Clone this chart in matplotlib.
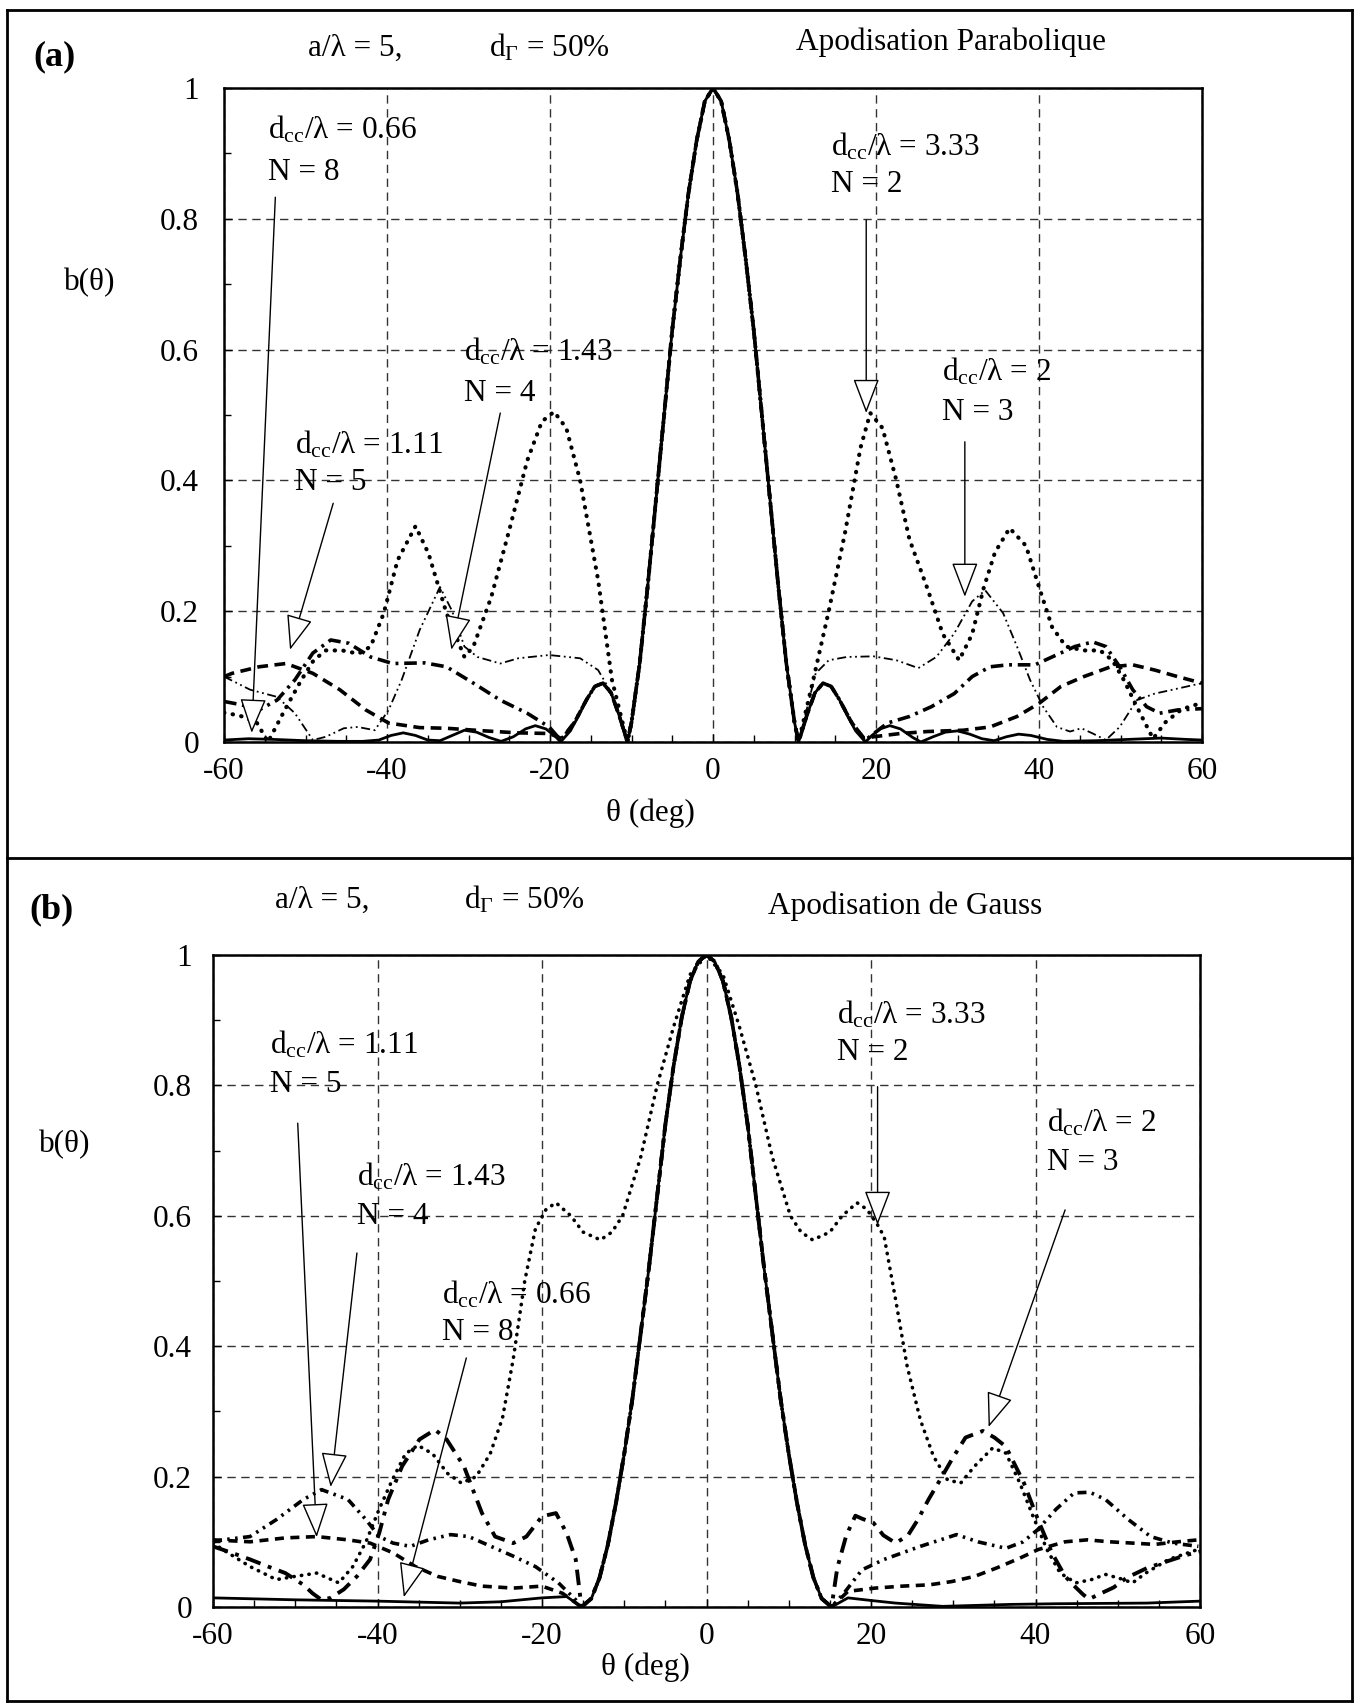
import matplotlib
matplotlib.use("Agg")
import matplotlib.pyplot as plt
from matplotlib.lines import Line2D

plt.rcParams['font.family'] = ['Liberation Serif', 'DejaVu Serif']
plt.rcParams['mathtext.fontset'] = 'custom'
plt.rcParams['mathtext.rm'] = 'Liberation Serif'
plt.rcParams['mathtext.it'] = 'Liberation Serif:italic'
plt.rcParams['mathtext.bf'] = 'Liberation Serif:bold'

# ---------------- data : panel (a) Apodisation Parabolique ----------------
lobe_a_theta = [-10.5, -10, -9, -8, -7, -6, -5, -4, -3, -2, -1, 0, 1, 2, 3, 4, 5, 6, 7, 8, 9, 10, 10.5]
lobe_a_b = [0, 0.03, 0.12, 0.24, 0.37, 0.5, 0.63, 0.74, 0.84, 0.92, 0.98, 1.0, 0.98, 0.92, 0.84, 0.74, 0.63, 0.5, 0.37, 0.24, 0.12, 0.03, 0]

a_n8_left_theta = [-60, -57, -54, -50, -46, -43, -41, -39.5, -38, -36.5, -35, -33.5, -32, -30.5, -29, -27.5, -26, -24.5, -23, -21.8, -20.5, -19.3, -18.7, -17.5, -16.5, -15.5, -14.5, -13.5, -12.5, -11.5]
a_n8_left_b = [0.003, 0.005, 0.004, 0.002, 0.001, 0.001, 0.003, 0.01, 0.014, 0.01, 0.003, 0.002, 0.01, 0.018, 0.015, 0.007, 0.001, 0.008, 0.02, 0.025, 0.02, 0.008, 0, 0.017, 0.04, 0.065, 0.085, 0.09, 0.075, 0.04]
a_n8_right_theta = [11.5, 12.5, 13.5, 14.5, 15.5, 16.5, 17.5, 18.7, 19.5, 20.5, 21.7, 23, 24.5, 25.5, 27, 28.5, 30, 31.5, 33, 34.5, 36, 37.5, 39, 41, 43, 47, 51, 55, 58, 60]
a_n8_right_b = [0.04, 0.075, 0.09, 0.085, 0.065, 0.04, 0.017, 0, 0.01, 0.02, 0.025, 0.02, 0.007, 0, 0.008, 0.015, 0.017, 0.012, 0.005, 0.002, 0.008, 0.012, 0.01, 0.004, 0.001, 0.002, 0.004, 0.006, 0.004, 0.003]

a_n2_left_theta = [-60, -58, -56, -54.6, -52.5, -50.5, -49, -47.5, -45.5, -43.5, -42, -40.4, -38.7, -36.5, -34.9, -32.7, -30.5, -29.4, -27.2, -25, -22.8, -21, -19.5, -18, -16.3, -14.1, -12.4]
a_n2_left_b = [0.045, 0.04, 0.03, 0.0, 0.05, 0.095, 0.125, 0.14, 0.14, 0.135, 0.146, 0.197, 0.278, 0.33, 0.288, 0.197, 0.13, 0.146, 0.222, 0.324, 0.43, 0.49, 0.505, 0.48, 0.40, 0.248, 0.095]
a_n2_right_theta = [12.3, 14.2, 16.2, 18.1, 19.3, 20.8, 22.5, 24.1, 26.3, 28.2, 30.2, 31.8, 33.2, 34.6, 36.4, 38.4, 40, 41.6, 43.3, 45.5, 47.5, 49, 50.4, 52, 54, 55.5, 57.5, 60]
a_n2_right_b = [0.095, 0.2, 0.32, 0.45, 0.503, 0.48, 0.40, 0.31, 0.235, 0.165, 0.125, 0.165, 0.235, 0.29, 0.327, 0.30, 0.237, 0.176, 0.146, 0.14, 0.14, 0.125, 0.095, 0.054, 0.005, 0.03, 0.05, 0.06]

a_n3_left_theta = [-60, -56.8, -53.5, -51.3, -49.1, -47.5, -45.3, -43.6, -41.5, -39.8, -38.2, -36, -33.5, -32, -30.5, -28.9, -26.1, -23.9, -20.1, -16.3, -14.1, -12.4, -11.5]
a_n3_left_b = [0.10, 0.08, 0.069, 0.044, 0.003, 0.008, 0.021, 0.023, 0.018, 0.049, 0.095, 0.171, 0.237, 0.2, 0.146, 0.13, 0.12, 0.128, 0.133, 0.128, 0.11, 0.074, 0.04]
a_n3_right_theta = [11.5, 12.6, 14.2, 16.4, 19.7, 22.5, 25.2, 27.4, 29.6, 31.8, 33.4, 35.6, 37.3, 38.9, 40.5, 42.2, 43.8, 45.2, 46.6, 48.2, 49.9, 52, 54.2, 56.4, 60]
a_n3_right_b = [0.05, 0.105, 0.125, 0.13, 0.131, 0.125, 0.113, 0.13, 0.166, 0.215, 0.232, 0.197, 0.146, 0.095, 0.054, 0.023, 0.016, 0.021, 0.013, 0.003, 0.023, 0.064, 0.074, 0.08, 0.09]

a_n4_left_theta = [-60, -57.9, -55.7, -53.5, -51.3, -49.1, -46.9, -44.7, -42, -39.3, -35.4, -32.7, -29.4, -26.1, -22.8, -20.1, -18.7, -17, -15.5, -14.5, -13.5, -12.5, -11.5]
a_n4_left_b = [0.062, 0.057, 0.049, 0.064, 0.095, 0.136, 0.156, 0.151, 0.13, 0.12, 0.121, 0.115, 0.09, 0.064, 0.044, 0.023, 0.003, 0.03, 0.065, 0.085, 0.09, 0.075, 0.04]
a_n4_right_theta = [11.5, 12.5, 13.5, 14.5, 15.5, 17, 18.7, 21.4, 24.1, 26.8, 29.6, 31.8, 34, 36.2, 39.5, 41.6, 44.4, 46.6, 48.2, 49.9, 51.5, 53.2, 54.8, 57, 60]
a_n4_right_b = [0.04, 0.075, 0.09, 0.085, 0.065, 0.03, 0.003, 0.029, 0.039, 0.054, 0.074, 0.10, 0.115, 0.118, 0.118, 0.13, 0.146, 0.153, 0.146, 0.115, 0.08, 0.054, 0.044, 0.049, 0.051]

a_n5_left_theta = [-60, -59, -55.7, -52.4, -49.1, -45.8, -42.6, -39.8, -36, -32.7, -28, -24, -20.1, -18.5, -17, -15.5, -14.5, -13.5, -12.5, -11.5]
a_n5_left_b = [0.10, 0.105, 0.115, 0.12, 0.105, 0.08, 0.049, 0.029, 0.022, 0.021, 0.017, 0.014, 0.013, 0.005, 0.03, 0.065, 0.085, 0.09, 0.075, 0.04]
a_n5_right_theta = [11.5, 12.5, 13.5, 14.5, 15.5, 17, 18.5, 19.7, 23, 26.3, 30.7, 34, 37.3, 40, 42.7, 45.5, 48.8, 51.5, 54.2, 57, 60]
a_n5_right_b = [0.04, 0.075, 0.09, 0.085, 0.065, 0.03, 0.005, 0.008, 0.013, 0.016, 0.018, 0.023, 0.039, 0.059, 0.085, 0.10, 0.115, 0.118, 0.11, 0.10, 0.09]

# ---------------- data : panel (b) Apodisation de Gauss ----------------
lobe_b_theta = [-15.2, -14, -13, -12, -11, -10, -9, -8, -7, -6, -5, -4, -3, -2, -1, 0, 1, 2, 3, 4, 5, 6, 7, 8, 9, 10, 11, 12, 13, 14, 15.2]
lobe_b_b = [0, 0.013, 0.045, 0.095, 0.16, 0.235, 0.32, 0.42, 0.52, 0.63, 0.74, 0.83, 0.905, 0.96, 0.99, 1.0, 0.99, 0.96, 0.905, 0.83, 0.74, 0.63, 0.52, 0.42, 0.32, 0.235, 0.16, 0.095, 0.045, 0.013, 0]

b_n8_left_theta = [-60, -50, -40, -30, -25, -20, -17]
b_n8_left_b = [0.014, 0.011, 0.009, 0.006, 0.008, 0.014, 0.016]
b_n8_right_theta = [17.2, 20, 23, 28.7, 37, 42.5, 53.5, 60]
b_n8_right_b = [0.014, 0.01, 0.006, 0.001, 0.004, 0.005, 0.006, 0.009]

b_n2_theta = [-60, -58.8, -55.5, -52.3, -50, -47.4, -44.7, -43, -41.4, -39.8, -38.2, -36.6, -35.1, -33.3, -31.5, -29.8, -28, -26.3, -24.8, -23.5, -22.1, -20.8, -19.5, -18.3, -16.5, -15, -12.9, -11.5, -10.2, -8, -6, -4, -2, 0,
              2, 4, 6, 8, 10.2, 11.5, 12.9, 15, 16.5, 18.3, 19.5, 20.8, 21.6, 23, 24.4, 26, 27.6, 29.3, 30.9, 32.6, 34.8, 36.4, 38.1, 39.7, 41.4, 43, 44.9, 46.8, 48.5, 50.2, 51.8, 53.4, 56.2, 59.7, 60]
b_n2_b = [0.098, 0.088, 0.062, 0.042, 0.047, 0.052, 0.037, 0.062, 0.1, 0.15, 0.195, 0.235, 0.248, 0.235, 0.205, 0.19, 0.2, 0.235, 0.29, 0.38, 0.5, 0.58, 0.61, 0.62, 0.6, 0.575, 0.563, 0.575, 0.6, 0.69, 0.8, 0.89, 0.97, 1.0,
          0.97, 0.89, 0.8, 0.69, 0.6, 0.575, 0.563, 0.575, 0.6, 0.62, 0.61, 0.586, 0.568, 0.471, 0.369, 0.287, 0.231, 0.195, 0.19, 0.216, 0.244, 0.236, 0.19, 0.139, 0.088, 0.052, 0.037, 0.042, 0.05, 0.044, 0.037, 0.052, 0.073, 0.088, 0.09]

b_n3_left_theta = [-60, -57.7, -55.5, -53.3, -51.2, -49, -47.9, -46.8, -45.7, -44.1, -42.5, -40.9, -39.8, -38.7, -37, -34.9, -33, -31.6, -29.5, -28.4, -27.3, -25.7, -23.5, -21.9, -20, -18.3, -17, -15.9]
b_n3_left_b = [0.093, 0.083, 0.073, 0.062, 0.052, 0.034, 0.021, 0.011, 0.014, 0.027, 0.047, 0.073, 0.113, 0.165, 0.216, 0.257, 0.272, 0.257, 0.216, 0.18, 0.144, 0.108, 0.098, 0.108, 0.139, 0.144, 0.113, 0.073]
b_n3_right_theta = [15.9, 17, 18.1, 19, 20.3, 21.5, 23, 24.5, 25.7, 27, 28.4, 30, 31.5, 33.6, 35, 36.4, 38.6, 40.3, 42, 43.6, 44.9, 45.8, 46.5, 47.8, 49.5, 51.1, 53.6, 56, 58.4, 60]
b_n3_right_b = [0.06, 0.11, 0.14, 0.135, 0.129, 0.11, 0.098, 0.11, 0.134, 0.165, 0.195, 0.23, 0.26, 0.27, 0.26, 0.246, 0.19, 0.134, 0.083, 0.047, 0.03, 0.019, 0.012, 0.02, 0.03, 0.045, 0.06, 0.07, 0.08, 0.085]

b_n4_left_theta = [-60, -58.8, -55.5, -52.3, -49, -46.8, -43.6, -41.4, -39.8, -38.1, -36, -33.8, -31.1, -28.9, -26.2, -23.5, -20.8, -18, -15.9]
b_n4_left_b = [0.1, 0.103, 0.108, 0.134, 0.165, 0.18, 0.165, 0.134, 0.108, 0.098, 0.093, 0.103, 0.111, 0.108, 0.093, 0.078, 0.062, 0.037, 0.011]
b_n4_right_theta = [16.7, 18.9, 21.6, 26, 30.4, 33, 36.4, 38.5, 40.3, 42.5, 44.7, 46.6, 48.5, 51.3, 54, 56.7, 59.8]
b_n4_right_b = [0.021, 0.057, 0.073, 0.093, 0.111, 0.1, 0.09, 0.1, 0.119, 0.15, 0.175, 0.176, 0.165, 0.134, 0.108, 0.098, 0.093]

b_n5_left_theta = [-60, -55.5, -51.2, -47.4, -43.6, -40.9, -38.1, -35.4, -32.7, -30, -27.3, -23.5, -20, -17.5]
b_n5_left_b = [0.103, 0.1, 0.106, 0.108, 0.103, 0.098, 0.083, 0.062, 0.047, 0.039, 0.032, 0.029, 0.032, 0.021]
b_n5_right_theta = [17.2, 20.5, 23.8, 27.1, 29.8, 32.6, 35.3, 38.1, 40.3, 43.6, 46.3, 49, 51.8, 54.5, 57.3, 59.8]
b_n5_right_b = [0.024, 0.029, 0.032, 0.034, 0.039, 0.047, 0.06, 0.075, 0.088, 0.10, 0.103, 0.10, 0.098, 0.096, 0.10, 0.103]

x_ticks = [-60, -40, -20, 0, 20, 40, 60]
y_ticks = [0, 0.2, 0.4, 0.6, 0.8, 1.0]
y_ticklabels = ['0', '0.2', '0.4', '0.6', '0.8', '1']

# ---------------- figure ----------------
W, H = 1356, 1703
fig = plt.figure(figsize=(W / 100, H / 100), dpi=100)
fig.patch.set_facecolor('white')


def fx(x):
    return x / W


def fy(y):
    return 1 - y / H


def rect(l, t, r, b):
    return [l / W, 1 - b / H, (r - l) / W, (b - t) / H]


# outer frame
for (x0, y0, x1, y1) in [(7, 10, 1352, 10), (7, 10, 7, 1701), (1352, 10, 1352, 1701),
                         (7, 858, 1352, 858), (7, 1701, 1352, 1701)]:
    fig.add_artist(Line2D([fx(x0), fx(x1)], [fy(y0), fy(y1)], transform=fig.transFigure,
                          color='black', lw=2.0))

FS = 22.5


def setup(ax, ypad):
    ax.set_xlim(-60, 60)
    ax.set_ylim(0, 1)
    ax.set_xticks(x_ticks)
    ax.set_xticklabels([str(t) for t in x_ticks])
    ax.set_yticks(y_ticks)
    ax.set_yticklabels(y_ticklabels)
    ax.set_xticks(list(range(-55, 60, 5)), minor=True)
    ax.set_yticks([0.1, 0.3, 0.5, 0.7, 0.9], minor=True)
    ax.tick_params(which='both', direction='in', top=False, right=False, width=1.0, color='black')
    ax.tick_params(which='major', length=6)
    ax.tick_params(which='minor', length=5)
    ax.tick_params(axis='x', which='major', labelsize=FS, pad=11)
    ax.tick_params(axis='y', which='major', labelsize=FS, pad=ypad)
    ax.grid(True, which='major', ls=(0, (6, 4)), lw=1.0, color='#333333')
    for s in ax.spines.values():
        s.set_linewidth(1.8)
    ax.set_axisbelow(True)


def curve(left_t, left_b, mid_t, mid_b, right_t, right_b):
    return left_t + mid_t + right_t, left_b + mid_b + right_b


axA = fig.add_axes(rect(224, 88, 1202, 742))
setup(axA, 18)
axB = fig.add_axes(rect(213, 955, 1200, 1607))
setup(axB, 15)

# panel (a) curves
t, b = curve(a_n5_left_theta, a_n5_left_b, lobe_a_theta, lobe_a_b, a_n5_right_theta, a_n5_right_b)
axA.plot(t, b, color='black', lw=2.6, ls=(0, (3, 1.8)))
t, b = curve(a_n4_left_theta, a_n4_left_b, lobe_a_theta, lobe_a_b, a_n4_right_theta, a_n4_right_b)
axA.plot(t, b, color='black', lw=2.6, ls=(0, (3.5, 1.6, 0.8, 1.6)))
t, b = curve(a_n3_left_theta, a_n3_left_b, lobe_a_theta, lobe_a_b, a_n3_right_theta, a_n3_right_b)
axA.plot(t, b, color='black', lw=1.3, ls=(0, (5, 2, 1, 2, 1, 2)))
t, b = curve(a_n2_left_theta, a_n2_left_b, lobe_a_theta, lobe_a_b, a_n2_right_theta, a_n2_right_b)
axA.plot(t, b, color='black', lw=3.0, ls=(0, (0.1, 2.0)), dash_capstyle='round')
t, b = curve(a_n8_left_theta, a_n8_left_b, lobe_a_theta, lobe_a_b, a_n8_right_theta, a_n8_right_b)
axA.plot(t, b, color='black', lw=2.0, ls='-')

# panel (b) curves
t, b = curve(b_n5_left_theta, b_n5_left_b, lobe_b_theta, lobe_b_b, b_n5_right_theta, b_n5_right_b)
axB.plot(t, b, color='black', lw=2.6, ls=(0, (2.5, 1.8)))
t, b = curve(b_n4_left_theta, b_n4_left_b, lobe_b_theta, lobe_b_b, b_n4_right_theta, b_n4_right_b)
axB.plot(t, b, color='black', lw=2.6, ls=(0, (2.5, 1.5, 0.7, 1.5, 0.7, 1.5)))
t, b = curve(b_n3_left_theta, b_n3_left_b, lobe_b_theta, lobe_b_b, b_n3_right_theta, b_n3_right_b)
axB.plot(t, b, color='black', lw=2.8, ls=(0, (4, 2, 1, 2)))
axB.plot(b_n2_theta, b_n2_b, color='black', lw=2.6, ls=(0, (0.1, 2.0)), dash_capstyle='round')
t, b = curve(b_n8_left_theta, b_n8_left_b, lobe_b_theta, lobe_b_b, b_n8_right_theta, b_n8_right_b)
axB.plot(t, b, color='black', lw=2.0, ls='-')


def ftext(x, y, s, **kw):
    kw.setdefault('fontsize', FS)
    kw.setdefault('va', 'center')
    kw.setdefault('ha', 'left')
    fig.text(fx(x), fy(y), s, **kw)


def arrow(ax, tail, tip):
    ax.annotate('', xy=tip, xytext=tail, xycoords='data', textcoords='data',
                arrowprops=dict(arrowstyle='-|>,head_length=1.1,head_width=0.42', mutation_scale=20,
                                fc='white', ec='black', lw=1.0, shrinkA=0, shrinkB=0),
                annotation_clip=False)


# headers
ftext(33, 57, '(a)', fontweight='bold', fontsize=26)
ftext(308, 48, 'a/λ = 5,')
ftext(489, 48, r'$\mathrm{d_{\Gamma}}$ = 50%')
ftext(951, 42, 'Apodisation Parabolique', ha='center')
ftext(29, 910, '(b)', fontweight='bold', fontsize=26)
ftext(275, 900, 'a/λ = 5,')
ftext(464, 900, r'$\mathrm{d_{\Gamma}}$ = 50%')
ftext(905, 906, 'Apodisation de Gauss', ha='center')

# axis labels
ftext(90, 283, 'b(θ)', ha='center')
ftext(650, 813, 'θ (deg)', ha='center')
ftext(65, 1145, 'b(θ)', ha='center')
ftext(645, 1667, 'θ (deg)', ha='center')

# annotations panel (a)
ftext(268, 130, r'$\mathrm{d_{cc}}$/λ = 0.66')
ftext(268, 172, 'N = 8')
ftext(464, 352, r'$\mathrm{d_{cc}}$/λ = 1.43')
ftext(464, 393, 'N = 4')
ftext(295, 445, r'$\mathrm{d_{cc}}$/λ = 1.11')
ftext(295, 483, 'N = 5')
ftext(831, 147, r'$\mathrm{d_{cc}}$/λ = 3.33')
ftext(831, 185, 'N = 2')
ftext(942, 372, r'$\mathrm{d_{cc}}$/λ = 2')
ftext(942, 412, 'N = 3')
arrow(axA, (-53.7, 0.833), (-56.6, 0.014))
arrow(axA, (-26.1, 0.503), (-32.1, 0.141))
arrow(axA, (-46.6, 0.365), (-51.9, 0.141))
arrow(axA, (18.8, 0.798), (18.8, 0.503))
arrow(axA, (30.9, 0.459), (30.9, 0.222))

# annotations panel (b)
ftext(270, 1045, r'$\mathrm{d_{cc}}$/λ = 1.11')
ftext(270, 1085, 'N = 5')
ftext(357, 1177, r'$\mathrm{d_{cc}}$/λ = 1.43')
ftext(357, 1217, 'N = 4')
ftext(442, 1295, r'$\mathrm{d_{cc}}$/λ = 0.66')
ftext(442, 1333, 'N = 8')
ftext(837, 1015, r'$\mathrm{d_{cc}}$/λ = 3.33')
ftext(837, 1053, 'N = 2')
ftext(1047, 1123, r'$\mathrm{d_{cc}}$/λ = 2')
ftext(1047, 1163, 'N = 3')
arrow(axB, (-49.7, 0.742), (-47.4, 0.107))
arrow(axB, (-42.5, 0.543), (-45.7, 0.184))
arrow(axB, (-29.2, 0.382), (-36.8, 0.015))
arrow(axB, (20.8, 0.798), (20.8, 0.586))
arrow(axB, (43.6, 0.609), (34.3, 0.276))

fig.savefig('out.png', dpi=100, facecolor='white')
